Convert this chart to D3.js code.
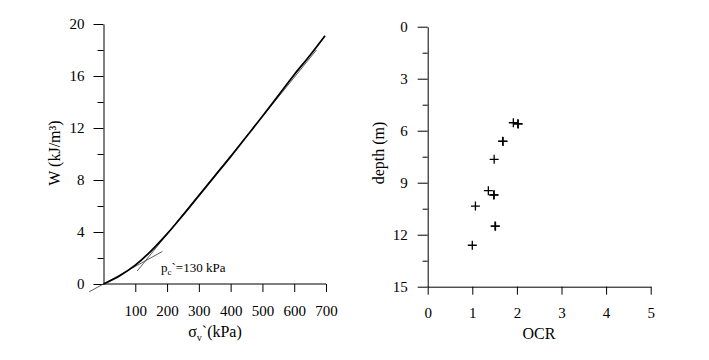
<!DOCTYPE html>
<html lang="en">
<head>
  <meta charset="UTF-8">
  <title>W - sigma and OCR - depth</title>
  <script src="https://d3js.org/d3.v7.min.js"></script>
  <style>
    body { margin: 0; background: #fff; }
    svg { display: block; }
    svg text { font-family: "Liberation Serif", Tinos, "Times New Roman", Times, "DejaVu Serif", serif; fill: #000; }
    .axis path, .axis line { stroke: #000; stroke-width: 1; }
    .axis text { font-size: 15px; }
  </style>
</head>
<body>
  <svg width="709" height="360"></svg>
  <script>
    // left panel: work per unit volume vs effective vertical stress
    const sigma = [0, 50, 100, 150, 200, 250, 300, 350, 400, 450, 500, 550, 600, 650, 697];
    const work = [0, 0.62, 1.45, 2.55, 3.85, 5.3, 6.8, 8.3, 9.8, 11.35, 12.9, 14.5, 16.1, 17.6, 19.1];
    // the two straight lines whose intersection gives pc`
    const lineLow = [[-45, -0.6], [185, 2.5]];
    const lineHigh = [[106, 1.0], [670, 18.0]];
    const xTicksLeft = [100, 200, 300, 400, 500, 600, 700];
    const yMajorLeft = [0, 4, 8, 12, 16, 20];
    const yMinorLeft = [2, 6, 10, 14, 18];

    // right panel: OCR vs depth
    const ocr = [1.92, 2.03, 2.02, 1.68, 1.69, 1.49, 1.36, 1.48, 1.49, 1.07, 1.51, 1.52, 1.0];
    const depth = [5.54, 5.61, 5.60, 6.61, 6.62, 7.65, 9.46, 9.71, 9.70, 10.35, 11.5, 11.51, 12.61];
    const xTicksRight = [0, 1, 2, 3, 4, 5];
    const yMajorRight = [0, 3, 6, 9, 12, 15];
    const yMinorRight = [1.5, 4.5, 7.5, 10.5, 13.5];

    const svg = d3.select("svg");

    // ---------- left ----------
    const xL = d3.scaleLinear().domain([0, 700]).range([103.5, 326]);
    const yL = d3.scaleLinear().domain([0, 20]).range([284, 24]);

    svg.append("g").attr("class", "axis")
      .attr("transform", "translate(0,284)")
      .call(d3.axisBottom(xL).tickValues(xTicksLeft).tickSize(8).tickSizeOuter(0).tickPadding(13))
      .select(".domain").attr("d", `M${xL(0)},0H${xL(700)}`);

    svg.append("g").attr("class", "axis")
      .attr("transform", `translate(${xL(0)},0)`)
      .call(d3.axisLeft(yL).tickValues(yMajorLeft).tickSize(10).tickSizeOuter(0).tickPadding(9));
    svg.append("g").attr("class", "axis")
      .attr("transform", `translate(${xL(0)},0)`)
      .call(d3.axisLeft(yL).tickValues(yMinorLeft).tickSize(6).tickFormat(""))
      .select(".domain").remove();

    const straight = d3.line().x(d => xL(d[0])).y(d => yL(d[1]));
    [lineLow, lineHigh].forEach(l => {
      svg.append("path").attr("d", straight(l))
        .attr("fill", "none").attr("stroke", "#333").attr("stroke-width", 0.8);
    });

    const curve = d3.line()
      .x((d, i) => xL(sigma[i]))
      .y(d => yL(d))
      .curve(d3.curveMonotoneX);
    svg.append("path")
      .attr("d", curve(work))
      .attr("fill", "none").attr("stroke", "#000").attr("stroke-width", 1.8);

    const pc = svg.append("text").attr("x", 161).attr("y", 272).attr("font-size", 13);
    pc.append("tspan").text("p");
    pc.append("tspan").attr("font-size", 9).attr("dy", 3).text("c");
    pc.append("tspan").attr("dy", -3).text("`=130 kPa");

    const xl = svg.append("text").attr("x", 215).attr("y", 337)
      .attr("text-anchor", "middle").attr("font-size", 16);
    xl.append("tspan").text("σ");
    xl.append("tspan").attr("font-size", 10).attr("dy", 4).text("v");
    xl.append("tspan").attr("dy", -4).text("`(kPa)");

    svg.append("text")
      .attr("transform", "translate(60,153) rotate(-90)")
      .attr("text-anchor", "middle").attr("font-size", 16)
      .text("W (kJ/m³)");

    // ---------- right ----------
    const xR = d3.scaleLinear().domain([0, 5]).range([427.7, 650.7]);
    const yR = d3.scaleLinear().domain([0, 15]).range([26.7, 286.7]);

    svg.append("g").attr("class", "axis")
      .attr("transform", "translate(0,286.7)")
      .call(d3.axisBottom(xR).tickValues(xTicksRight).tickFormat(d3.format("d"))
        .tickSize(8).tickSizeOuter(0).tickPadding(13));

    svg.append("g").attr("class", "axis")
      .attr("transform", `translate(${xR(0)},0)`)
      .call(d3.axisLeft(yR).tickValues(yMajorRight).tickSize(10).tickSizeOuter(0).tickPadding(10));
    svg.append("g").attr("class", "axis")
      .attr("transform", `translate(${xR(0)},0)`)
      .call(d3.axisLeft(yR).tickValues(yMinorRight).tickSize(5).tickFormat(""))
      .select(".domain").remove();

    svg.append("g").selectAll("path")
      .data(ocr)
      .join("path")
      .attr("transform", (d, i) => `translate(${xR(d)},${yR(depth[i])})`)
      .attr("d", "M-4.5,0H4.5M0,-4.5V4.5")
      .attr("fill", "none").attr("stroke", "#000").attr("stroke-width", 1.3);

    svg.append("text").attr("x", 539).attr("y", 339)
      .attr("text-anchor", "middle").attr("font-size", 16).text("OCR");

    svg.append("text")
      .attr("transform", "translate(384,153) rotate(-90)")
      .attr("text-anchor", "middle").attr("font-size", 16)
      .text("depth (m)");
  </script>
</body>
</html>
